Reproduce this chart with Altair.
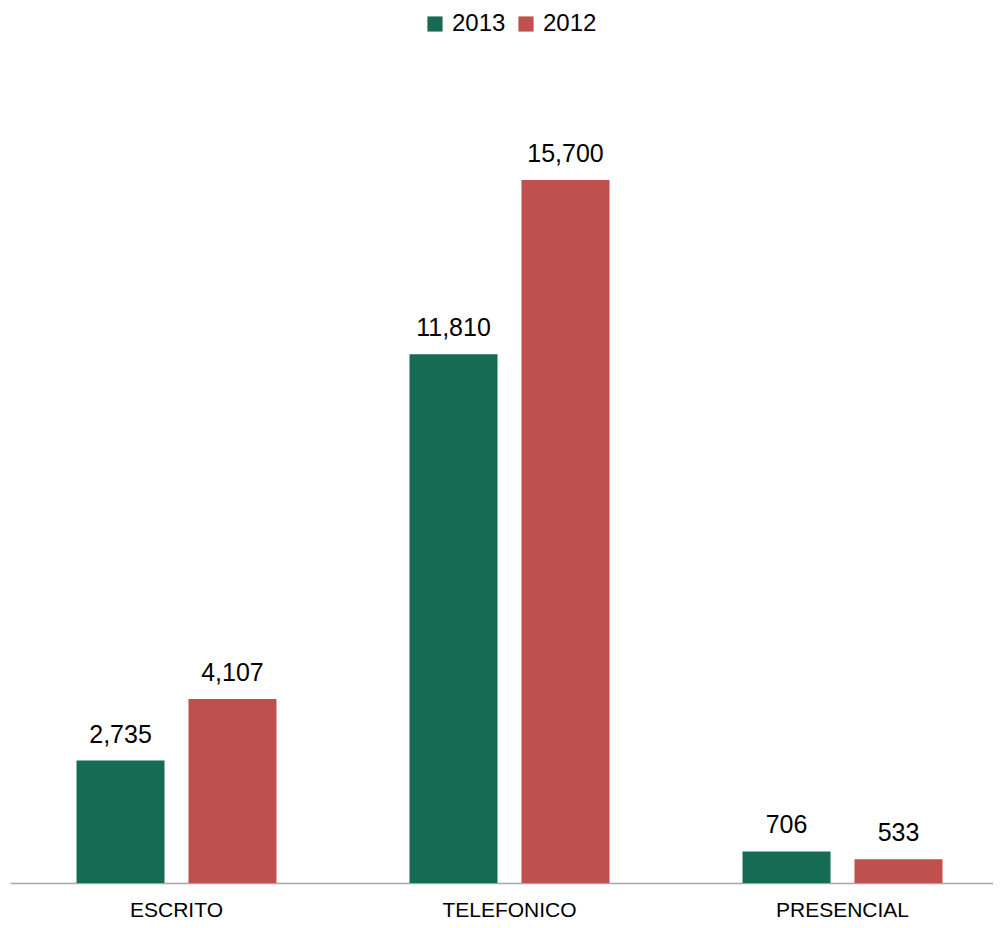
import altair as alt
import pandas as pd

categories = ["ESCRITO", "TELEFONICO", "PRESENCIAL"]
years = ["2013", "2012"]
values_2013 = [2735, 11810, 706]
values_2012 = [4107, 15700, 533]
colors = ["#156B53", "#C0504D"]

rows = []
for c, v13, v12 in zip(categories, values_2013, values_2012):
    rows.append({"cat": c, "year": "2013", "value": v13})
    rows.append({"cat": c, "year": "2012", "value": v12})
df = pd.DataFrame(rows)

FONT = "Liberation Sans"

x = alt.X("cat:N", sort=categories, title=None,
          scale=alt.Scale(paddingInner=0, paddingOuter=0, range=[0, 999]),
          axis=alt.Axis(labelAngle=0, ticks=False, labelPadding=16, labelFontSize=21,
                        labelFont=FONT, labelColor="#000000", domainColor="#a6a6a6",
                        domainWidth=1.5))
xo = alt.XOffset("year:N", sort=years, scale=alt.Scale(paddingInner=0.214, paddingOuter=0.594))
y = alt.Y("value:Q", scale=alt.Scale(domain=[0, 18000], nice=False), axis=None)

bars = alt.Chart(df).mark_bar().encode(
    x=x, xOffset=xo, y=y,
    color=alt.Color("year:N", sort=years,
                    scale=alt.Scale(domain=years, range=colors),
                    legend=alt.Legend(title=None, orient="none", legendX=413, legendY=-65,
                                      direction="horizontal", symbolType="square",
                                      symbolSize=230, labelFontSize=24, labelFont=FONT,
                                      labelColor="#000000", columnPadding=8,
                                      labelOffset=5, symbolStrokeWidth=0)),
)

labels = alt.Chart(df).mark_text(baseline="bottom", dy=-13, fontSize=25, font=FONT,
                                 color="#000000").encode(
    x=x, xOffset=xo, y=y,
    text=alt.Text("value:Q", format=",")
)

chart = (bars + labels).properties(
    width=983, height=806,
    autosize=alt.AutoSizeParams(type="none"),
    padding={"left": 2, "top": 69, "right": 0, "bottom": 37},
).configure_view(stroke=None)

chart.save("out.html", embed_options={"renderer": "svg", "actions": False})
